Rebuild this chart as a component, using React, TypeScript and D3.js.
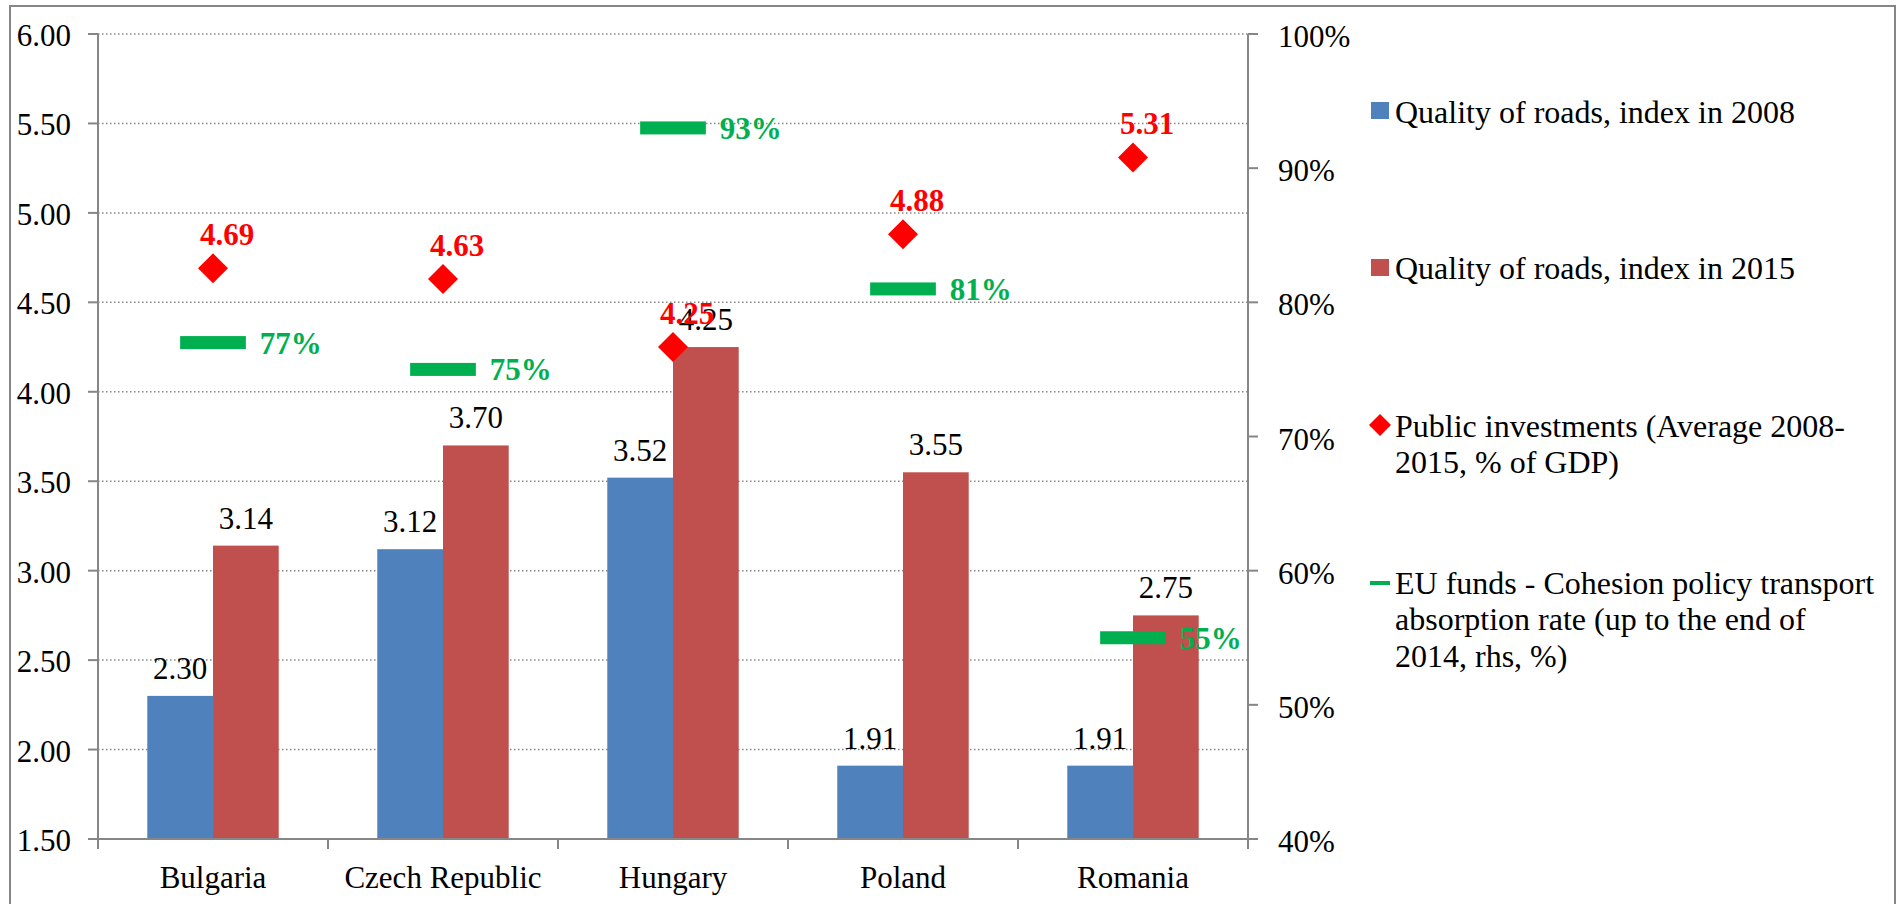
import React from 'react';
import * as d3 from 'd3';

const countries = ['Bulgaria', 'Czech Republic', 'Hungary', 'Poland', 'Romania'];
const roads2008 = [2.3, 3.12, 3.52, 1.91, 1.91];
const roads2015 = [3.14, 3.7, 4.25, 3.55, 2.75];
const publicInvest = [4.69, 4.63, 4.25, 4.88, 5.31];
const euFunds = [0.77, 0.75, 0.93, 0.81, 0.55];
const leftTicks = [1.5, 2, 2.5, 3, 3.5, 4, 4.5, 5, 5.5, 6];
const rightTicks = [0.4, 0.5, 0.6, 0.7, 0.8, 0.9, 1];

const W = 1898;
const H = 904;
const m = { left: 98, right: 1248, top: 34, bottom: 839 };
const font = '"Times New Roman", "Liberation Serif", serif';
const grey = '#868686';
const blue = '#4F81BD';
const red = '#C0504D';
const green = '#00B050';
const diamondRed = '#FF0000';

const diamond = (cx: number, cy: number, r: number) =>
  `M${cx},${cy - r}L${cx + r},${cy}L${cx},${cy + r}L${cx - r},${cy}Z`;

export default function App() {
  const x = d3.scaleBand<string>().domain(countries).range([m.left, m.right]);
  const xs = d3
    .scaleBand<string>()
    .domain(['2008', '2015'])
    .range([0, x.bandwidth()])
    .paddingInner(0)
    .paddingOuter(0.75);
  const y = d3.scaleLinear().domain([1.5, 6]).range([m.bottom, m.top]);
  const y2 = d3.scaleLinear().domain([0.4, 1]).range([m.bottom, m.top]);
  const fmtL = d3.format('.2f');
  const fmtR = d3.format('.0%');
  const bw = xs.bandwidth();

  const series = [
    { key: '2008', values: roads2008, color: blue },
    { key: '2015', values: roads2015, color: red },
  ];

  const lx = 1371;
  const tx = 1395;

  return (
    <svg
      width={W}
      height={H}
      style={{ position: 'absolute', left: 0, top: 0, background: '#fff' }}
      fontFamily={font}
    >
      <rect x={10} y={6} width={1885} height={930} fill="#fff" stroke={grey} strokeWidth={2} />

      {/* gridlines */}
      {leftTicks.slice(1).map(t => (
        <line
          key={'g' + t}
          x1={m.left}
          x2={m.right}
          y1={y(t)}
          y2={y(t)}
          stroke={grey}
          strokeWidth={1.5}
          strokeDasharray="1.5,2.5"
        />
      ))}

      {/* bars */}
      {series.map(s =>
        countries.map((c, i) => {
          const bx = (x(c) as number) + (xs(s.key) as number);
          return (
            <g key={s.key + c}>
              <rect x={bx} y={y(s.values[i])} width={bw} height={y(1.5) - y(s.values[i])} fill={s.color} />
              <text
                x={bx + bw / 2}
                y={y(s.values[i]) - 17}
                textAnchor="middle"
                fontSize={31}
                fill="#000"
              >
                {fmtL(s.values[i])}
              </text>
            </g>
          );
        })
      )}

      {/* axes */}
      <line x1={m.left} x2={m.left} y1={m.top} y2={m.bottom} stroke={grey} strokeWidth={2} />
      <line x1={m.right} x2={m.right} y1={m.top} y2={m.bottom + 10} stroke={grey} strokeWidth={2} />
      <line x1={m.left - 10} x2={m.right} y1={m.bottom} y2={m.bottom} stroke={grey} strokeWidth={2} />
      {leftTicks.map(t => (
        <g key={'l' + t}>
          <line x1={m.left - 10} x2={m.left} y1={y(t)} y2={y(t)} stroke={grey} strokeWidth={2} />
          <text x={71} y={y(t) + 12} textAnchor="end" fontSize={31}>
            {fmtL(t)}
          </text>
        </g>
      ))}
      {rightTicks.map(t => (
        <g key={'r' + t}>
          <line x1={m.right} x2={m.right + 10} y1={y2(t)} y2={y2(t)} stroke={grey} strokeWidth={2} />
          <text x={m.right + 30} y={y2(t) + 13} fontSize={31}>
            {fmtR(t)}
          </text>
        </g>
      ))}
      {countries.map((c, i) => (
        <g key={'x' + c}>
          <line
            x1={(x(c) as number) + (i === 0 ? 0 : 0)}
            x2={x(c) as number}
            y1={m.bottom}
            y2={m.bottom + 10}
            stroke={grey}
            strokeWidth={2}
          />
          <text x={(x(c) as number) + x.bandwidth() / 2} y={888} textAnchor="middle" fontSize={31}>
            {c}
          </text>
        </g>
      ))}
      <line x1={m.right} x2={m.right} y1={m.bottom} y2={m.bottom + 10} stroke={grey} strokeWidth={2} />

      {/* EU funds markers */}
      {countries.map((c, i) => {
        const cx = (x(c) as number) + x.bandwidth() / 2;
        return (
          <g key={'eu' + c}>
            <rect x={cx - bw / 2} y={y2(euFunds[i]) - 6.5} width={bw} height={13} fill={green} />
            <text
              x={cx + bw / 2 + 14}
              y={y2(euFunds[i]) + 11}
              fontSize={31}
              fontWeight="bold"
              fill={green}
            >
              {fmtR(euFunds[i])}
            </text>
          </g>
        );
      })}

      {/* public investment markers */}
      {countries.map((c, i) => {
        const cx = (x(c) as number) + x.bandwidth() / 2;
        return (
          <g key={'pi' + c}>
            <path d={diamond(cx, y(publicInvest[i]), 15)} fill={diamondRed} />
            <text
              x={cx + 14}
              y={y(publicInvest[i]) - 23}
              textAnchor="middle"
              fontSize={31}
              fontWeight="bold"
              fill={diamondRed}
            >
              {fmtL(publicInvest[i])}
            </text>
          </g>
        );
      })}

      {/* legend */}
      <g fontSize={32} fill="#000">
        <rect x={lx} y={102} width={18} height={17} fill={blue} />
        <text x={tx} y={123}>Quality of roads, index in 2008</text>
        <rect x={lx} y={259} width={18} height={17} fill={red} />
        <text x={tx} y={279}>Quality of roads, index in 2015</text>
        <path d={diamond(lx + 9, 425, 11)} fill={diamondRed} />
        <text x={tx} y={437}>Public investments (Average 2008-</text>
        <text x={tx} y={473}>2015, % of GDP)</text>
        <rect x={lx - 1} y={581} width={20} height={4} fill={green} />
        <text x={tx} y={594}>EU funds - Cohesion policy transport</text>
        <text x={tx} y={630}>absorption rate (up to the end of</text>
        <text x={tx} y={667}>2014, rhs, %)</text>
      </g>
    </svg>
  );
}
